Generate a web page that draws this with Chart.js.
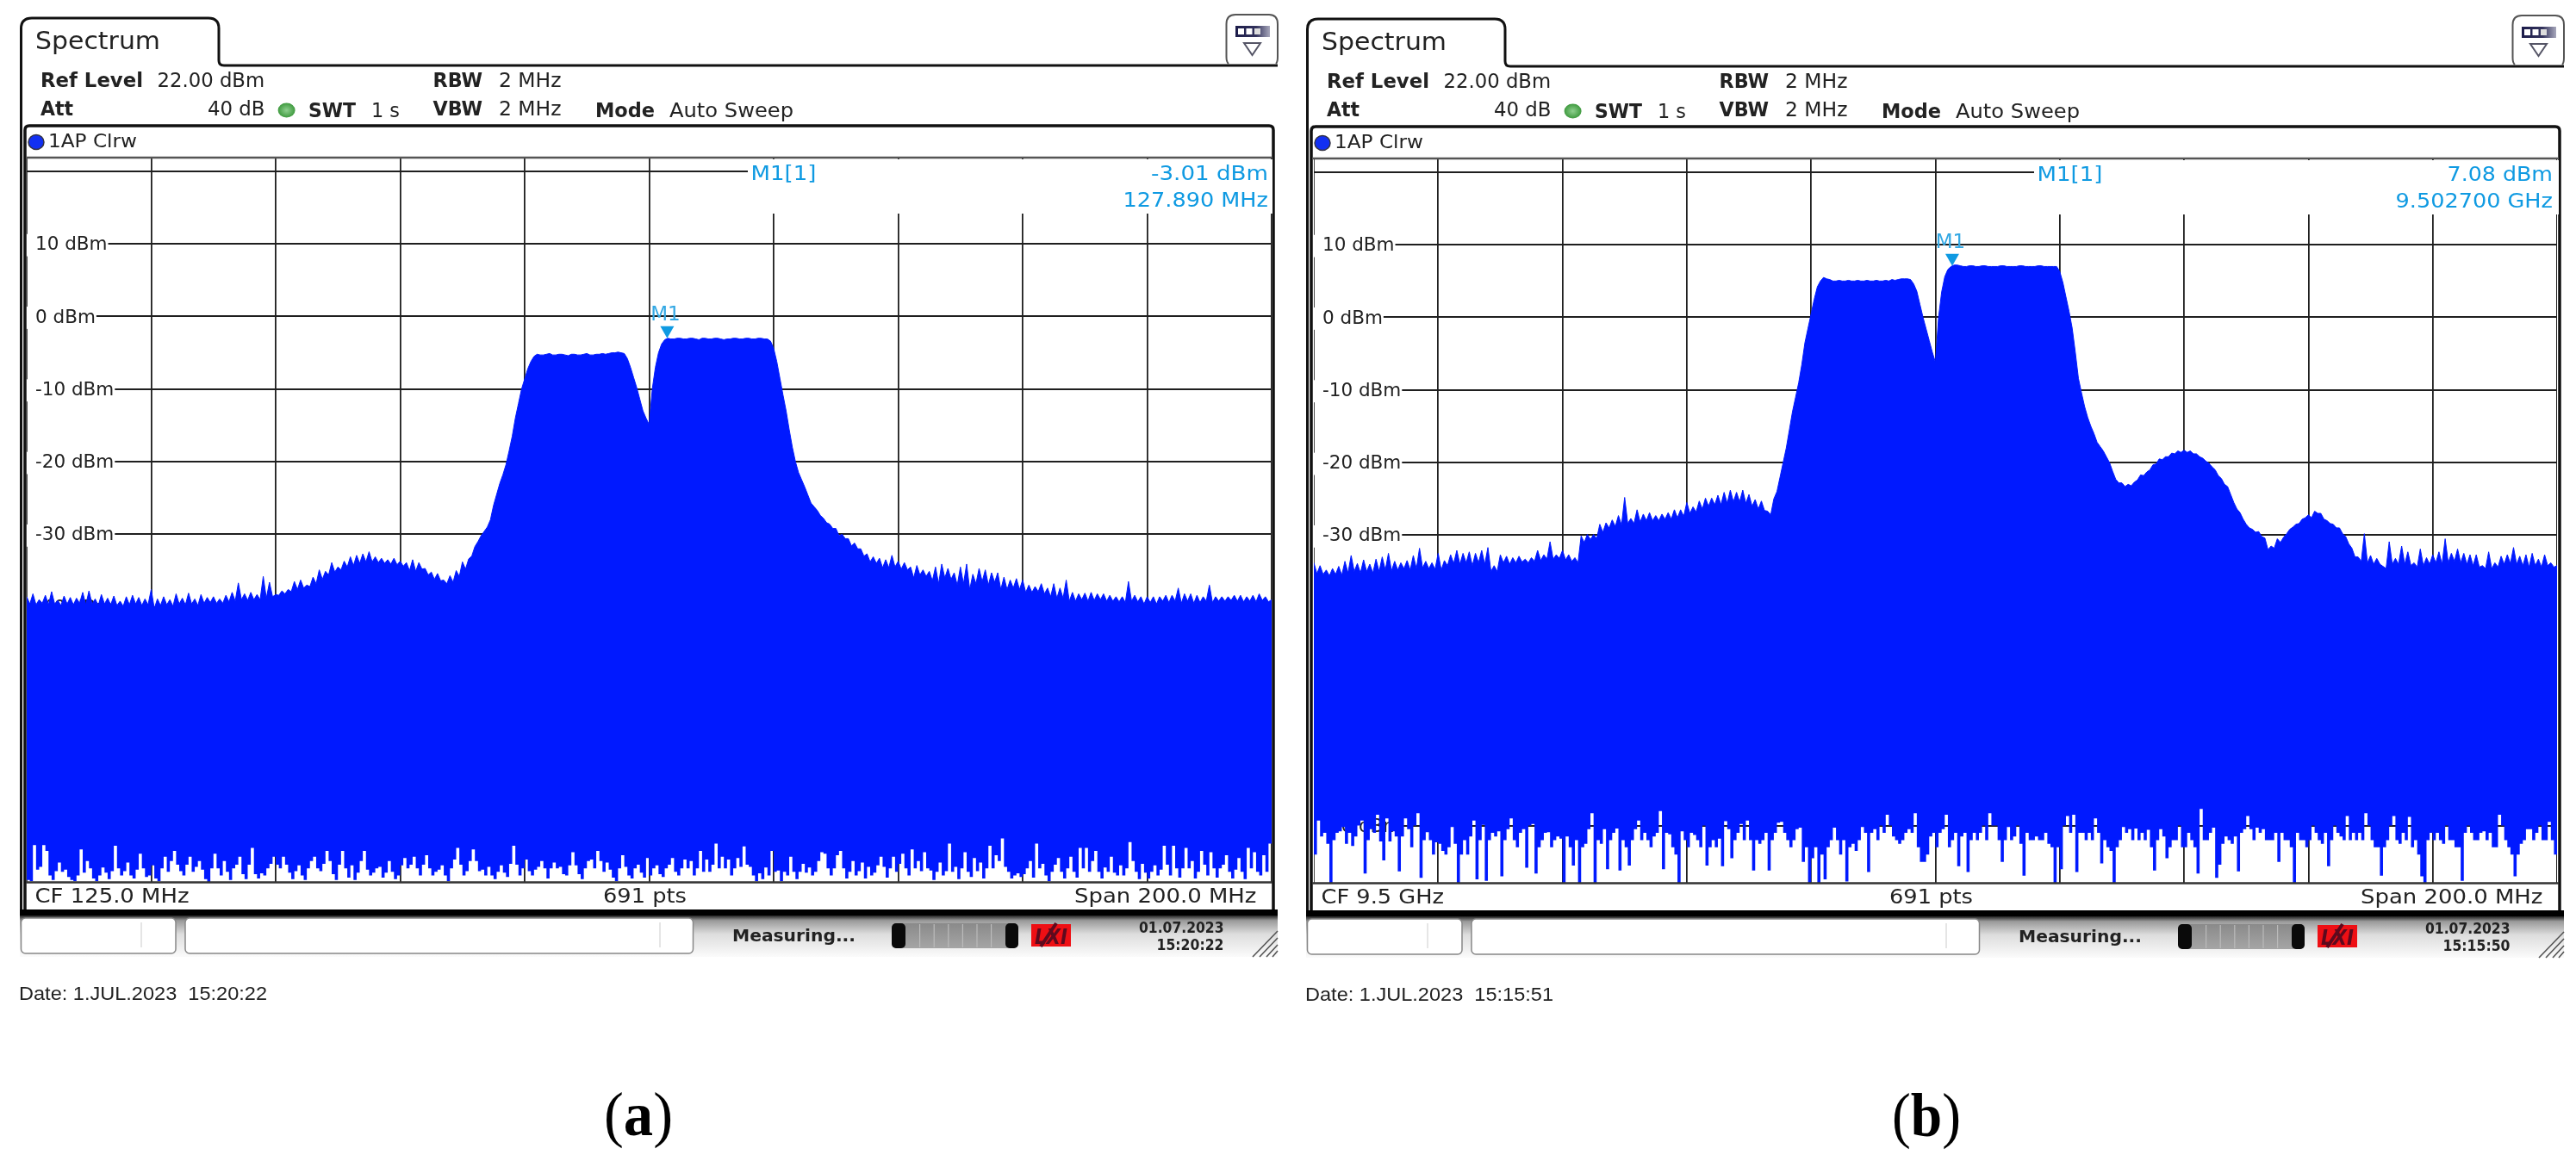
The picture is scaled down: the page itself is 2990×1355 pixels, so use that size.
<!DOCTYPE html>
<html>
<head>
<meta charset="utf-8">
<title>Spectrum</title>
<script src="https://cdn.jsdelivr.net/npm/chart.js@4"></script>
<style>
  html, body { margin: 0; padding: 0; background: #fff; width: 2990px; height: 1355px; overflow: hidden; }
  canvas { position: absolute; }
  #chrome { position: absolute; left: 0; top: 0; pointer-events: none; }
</style>
</head>
<body>
<canvas id="chartA" style="left:31px;top:182px"></canvas>
<canvas id="chartB" style="left:1525px;top:183px"></canvas>
<svg id="chrome" width="2990" height="1355" xmlns="http://www.w3.org/2000/svg"></svg>
<script>
// ---------- data (dBm), one value per 0.5 MHz ----------

// y axis grid levels
const levelTicks = [20, 10, 0, -10, -20, -30, -40, -50, -60, -70];

// panel (a): 25 .. 225 MHz
const spanA = [25, 225];
const markerA = [127.89, -3.01];
const topA = [
  -38.6,-39.6,-38.2,-39.7,-39,-39.5,-38.4,-39.7,-37.9,-39.6,-39.1,-39.8,-38.5,-39.6,-38.7,-39.7,-38.8,-39.5,-38,-39.7,-37.8,-39.6,-38.9,-39.8,-38.3,-39.6,-38.8,-39.7,-38.5,-39.8,-39.2,-39.9,-38.6,-39.7,-38.4,-39.6,-38.7,-39.8,-38.9,-39.7,
  -37.6,-40.2,-38.9,-39.8,-38.6,-39.7,-39,-39.9,-38.2,-39.6,-38.8,-39.7,-38.1,-39.6,-38.9,-39.8,-38.3,-39.5,-38.7,-39.4,-38.6,-39.5,-38.9,-39.5,-38.4,-39.3,-38,-39.2,-36.7,-39,-38.2,-39.1,-38,-39,-38.3,-39,-35.8,-38.8,-36.6,-38.6,
  -38.3,-38.4,-37.8,-38.2,-37.6,-37.9,-36.5,-37.6,-36.3,-37.4,-37,-37.2,-35.9,-36.8,-34.9,-36.2,-35.1,-35.6,-33.9,-35.2,-34.5,-34.9,-33.7,-34.5,-33.1,-34.3,-32.9,-34,-32.7,-33.8,-32.4,-33.8,-33.1,-33.9,-33.3,-34,-33.5,-34.1,-33.3,-34.2,
  -33.7,-34.4,-33.9,-35,-33.5,-35.1,-33.9,-34.8,-34.7,-35.6,-35.2,-36.2,-35.4,-36.4,-36.3,-36.8,-35.7,-36.6,-35,-35.8,-33.8,-34.8,-33.4,-33,-31.7,-31,-30.2,-29.6,-29,-28,-26,-24.5,-23,-21.8,-20.4,-18.5,-16.5,-14,-12,-10,
  -8.6,-7.2,-6.2,-5.5,-5.2,-5.3,-5.3,-5.2,-5.1,-5.3,-5.3,-5.2,-5.2,-5.3,-5.4,-5.2,-5.2,-5.3,-5.3,-5.2,-5.1,-5.3,-5.3,-5.2,-5.2,-5.1,-5.2,-5.1,-5,-5,-4.9,-5,-5.1,-5.8,-7,-8.4,-9.8,-11.4,-13,-14,
  -14.9,-10,-7,-5,-3.8,-3.2,-3,-3.1,-3.1,-3,-3,-3.1,-3.1,-3,-3,-3.1,-3.2,-3,-3,-3.1,-3.1,-3,-3,-3.1,-3.2,-3.1,-3.1,-3,-3,-3.1,-3.1,-3,-3,-3.1,-3.1,-3,-3,-3.1,-3.1,-3.4,
  -4.4,-6.2,-8.5,-10.8,-13,-15.6,-18,-20,-21.5,-22.5,-23.5,-24.6,-25.7,-26.2,-26.7,-27.4,-27.8,-28.4,-28.6,-29.2,-29.2,-30.2,-30,-30.6,-30.6,-31.6,-31.2,-32,-32,-33,-32.7,-33.8,-33.1,-34,-33.3,-34.6,-33.5,-34.6,-32.9,-34.5,
  -33.7,-34.8,-33.9,-34.9,-34.5,-36,-34.3,-35.6,-34.9,-35.8,-35.1,-36.4,-34.5,-36.8,-34.1,-36,-34.7,-36.2,-35.3,-37,-34.5,-36.8,-34.1,-37.6,-35.5,-36.8,-34.7,-36.5,-34.9,-37,-35.3,-36.6,-35.3,-37.6,-35.9,-37.6,-36.3,-37.4,-36.1,-37.6,
  -36.3,-38,-37,-38,-37.2,-37.9,-36.8,-38.2,-37.4,-38.6,-36.8,-38.8,-37.4,-38.8,-36.3,-39.2,-38,-39.2,-38.2,-39,-38.1,-39.2,-38,-39.1,-38.2,-39,-38.2,-39.2,-38.4,-39.2,-38.6,-39.3,-38.6,-39.4,-36.5,-39.2,-38.4,-39.3,-38.6,-39.6,
  -38.6,-39.4,-38.6,-39.6,-38.6,-39.2,-38.4,-39.4,-38.4,-39.2,-37.4,-39.5,-38.2,-39.2,-38.2,-39.5,-38.4,-39.4,-38.6,-39.2,-37,-39.4,-38.6,-39.2,-38.6,-39.2,-38.6,-39.1,-38.4,-39.2,-38.4,-39.3,-38.6,-39.2,-38.4,-39.3,-38.2,-39.1,-38.6,-39.3,-39
];
const lowA = [
  -77.6,-77.8,-72.8,-76.2,-75.8,-72.8,-73.6,-77,-77.6,-76.4,-75.2,-76.5,-76.2,-77.2,-77.6,-77.8,-77,-73.4,-76.6,-75,
  -76,-77.4,-77.8,-77,-75.9,-76.6,-77.5,-76.4,-72.9,-76,-77,-76.4,-75.2,-77,-77.4,-76.2,-74,-76,-77.2,-77,
  -75.6,-77.4,-77.8,-76,-74.4,-76.5,-75,-73.6,-75.5,-76.4,-77,-75.5,-74.4,-76.5,-75.8,-75,-76.2,-77.5,-78,-76,
  -74,-76,-77,-75,-76.5,-77.6,-76,-75.5,-74.4,-76.8,-77.5,-75.5,-73.2,-76.8,-77.4,-76.7,-77,-76,-75.4,-74.4,
  -75.5,-76,-74.4,-75.5,-76.6,-77.5,-76.4,-75.6,-77,-77.6,-76,-75,-74.4,-76,-76.4,-75.4,-73.6,-75,-76.8,-77.6,
  -75.5,-73.6,-76,-77.3,-75.6,-77.6,-76.6,-75,-73.6,-76.2,-77,-76.6,-76,-75.8,-77.3,-76.6,-75,-76.5,-77.5,-77,
  -75.6,-74.6,-76,-75.5,-74.4,-76,-77,-75.5,-74.2,-76,-77,-76.5,-76.2,-75.6,-77,-77.8,-76,-74.8,-73.2,-75.5,
  -77,-76.4,-75,-73.4,-75,-76.4,-76.2,-77,-75.8,-77,-77.5,-76.5,-75.6,-76.6,-77.2,-75.4,-72.9,-75.5,-77,-76,
  -74.8,-76.4,-77,-76.2,-75.8,-75,-76,-77.4,-76,-75.2,-76,-75.8,-76.8,-77,-75.6,-73.8,-75.6,-76.8,-77.5,-76,
  -75,-74.8,-76,-73.6,-75,-76.5,-75.2,-76.2,-77.3,-77.8,-76,-74.2,-75.8,-77,-77.4,-76,-75.5,-76.6,-77.3,-74.6,
  -77,-76,-75.6,-76.8,-77.2,-76,-75.5,-74.6,-76.5,-77,-76,-74.8,-76,-75,-77,-76,-73.6,-76.5,-74.8,-76.5,
  -75.5,-72.6,-76,-74.4,-76,-74.8,-77,-76,-74.6,-75.8,-73,-75.5,-75.8,-77,-77.8,-76.7,-77.5,-75.9,-77,-73.6,
  -76.5,-76.3,-77.8,-76.5,-77,-74.4,-76.5,-77.5,-76.5,-75.4,-76.6,-75.9,-77,-76.5,-75,-73.8,-74,-76,-77,-76,
  -74.2,-73.6,-76,-77.4,-76.5,-75,-77,-76.4,-75.2,-77.4,-75.8,-77,-76.6,-75.6,-74.4,-75.8,-77.3,-76,-74.4,-76.5,
  -75.4,-74,-76,-77,-73.4,-76,-75,-76.4,-73.8,-76,-76.3,-77.6,-76.5,-75.2,-77,-76.4,-72.6,-76.5,-75.8,-77.5,
  -76,-73.8,-76.5,-77.2,-74.6,-76.4,-75.2,-77.4,-76,-72.9,-76,-74.2,-75,-71.9,-75.8,-76.5,-77.4,-77,-76.7,-77.2,
  -76.8,-76,-75,-77.3,-72.6,-76,-75.4,-77,-77.8,-76.5,-75.5,-74.6,-76.5,-77.4,-76,-74.4,-76.5,-77.3,-73.2,-76,
  -73.2,-76.5,-75,-73.6,-76.5,-77.4,-75.9,-76.5,-74.4,-76.6,-77,-75.6,-77,-76,-72.4,-75,-76.5,-77.5,-75.4,-76.6,
  -77.4,-76.5,-75.6,-77,-76.2,-72.9,-75.5,-77,-72.9,-76,-77.3,-76,-73.2,-76,-75,-77.4,-76.5,-73.6,-75.5,-77,
  -73.8,-76,-77.3,-76,-75.5,-74.2,-76.5,-77.4,-76.2,-74.6,-76.5,-77.5,-73.2,-76,-73.8,-76.5,-77,-74.2,-76.5,-72.6,-76
];

// panel (b): 9.4 .. 9.6 GHz, in MHz
const spanB = [9400, 9600];
const markerB = [9502.7, 7.08];
const topB = [
  -33.8,-35.3,-34.2,-35.4,-34.8,-35.6,-34.6,-35.4,-34.3,-35.5,-33.6,-35.2,-32.8,-35,-33.9,-35.2,-33.4,-35,-34,-35.2,-33.3,-35,-33,-34.8,-32.5,-34.9,-33.6,-34.8,-33.8,-34.6,-33.5,-34.8,-32.8,-34.6,-31.8,-34.5,-33.6,-34.6,-33.8,-34.7,
  -32.5,-34.8,-33.5,-34.2,-32.7,-33.9,-32.1,-34,-32.5,-33.8,-32.3,-34.2,-32.5,-33.8,-32.1,-34,-31.7,-35,-34.2,-35,-32.7,-33.8,-32.9,-34,-33.1,-33.8,-32.9,-33.7,-33.3,-33.8,-33.1,-33.6,-32.1,-33.5,-32.7,-33.3,-30.9,-33.3,-32.7,-33.2,
  -32.1,-33.4,-32.7,-33.6,-33.1,-33.8,-30.1,-31,-29.9,-30.6,-29.9,-30.5,-28.5,-29.6,-28.3,-29,-27.9,-28.8,-27.3,-28.6,-24.8,-28.4,-27.7,-28.4,-26.5,-28.2,-27.1,-28,-26.9,-28,-27.3,-28,-27.1,-27.8,-26.9,-27.8,-26.5,-27.6,-26.5,-27.4,
  -25.5,-27,-26.1,-26.8,-25.3,-26.4,-24.9,-26,-24.9,-25.8,-24.5,-25.8,-24.1,-25.6,-23.8,-25.4,-24.1,-25.4,-23.8,-25.6,-24.4,-26,-25.1,-26.4,-25.3,-26.6,-26.7,-27.2,-25,-24,-22,-20,-18,-15.5,-13,-11,-9,-6.5,-3.5,-1.5,
  0.5,2.5,4.2,5,5.5,5.3,5.2,5,5,5.1,5,5,5.1,5,5,5.1,5,5,5.1,5,5,5.1,5,5,5.1,5,5.2,5.1,5.2,5.3,5.3,5.3,5.2,4.6,3.6,1.8,0,-1.6,-3.2,-4.8,
  -6.2,0,3.5,5.6,6.6,7,7.2,7.2,7.1,7,7,7.1,7.1,7,7,7.1,7.1,7,7,7,7,7.1,7.1,7,7,7,7,7.1,7.1,7,7,7,7,7.1,7.1,7,7,7,7,7,
  6.3,4.8,2.8,0.8,-1.5,-4.8,-8.4,-10.4,-12.3,-13.8,-15,-16,-17.2,-17.8,-18.4,-19.2,-20,-21.2,-22.3,-22.8,-22.8,-23.3,-23,-23.2,-22.7,-22.4,-21.7,-21.8,-21.3,-21,-20.3,-20.2,-19.5,-19.6,-19.2,-19.2,-18.7,-18.8,-18.4,-18.6,
  -18.3,-18.6,-18.4,-18.8,-18.8,-19.2,-19.4,-19.8,-20.1,-20.6,-21,-21.8,-22.2,-23,-23.3,-24.4,-25.5,-26.4,-26.9,-27.8,-28.5,-29,-29.2,-29.6,-29.5,-30.2,-30.4,-32,-31.5,-31.8,-30.5,-31,-30.3,-29.8,-29.2,-28.9,-28.5,-28.4,-27.8,-27.6,
  -27.2,-27.6,-26.7,-27,-27,-27.8,-28,-28.4,-28.5,-29,-29,-29.8,-30.2,-31.2,-31.8,-33,-33,-33.6,-29.8,-33.8,-32.8,-34,-33.2,-34,-34.3,-34.6,-30.9,-34,-33.2,-34,-31.5,-34,-32.3,-34.2,-33.8,-34.4,-31.9,-34.2,-33.1,-34,
  -32.7,-33.8,-32.3,-34,-30.5,-33.8,-32.5,-33.6,-31.9,-33.8,-32.5,-34,-32.7,-34.2,-32.7,-34.4,-34.2,-34.6,-32.3,-34.6,-33.8,-34.4,-32.9,-34,-32.7,-33.9,-31.7,-34,-32.9,-34.2,-32.7,-34.4,-32.5,-34.2,-33.3,-34.4,-32.7,-34.2,-33.8,-34.4,-34.2
];
const lowB = [
  -74,-69.3,-71.5,-71,-72.5,-77.9,-72,-71,-70.8,-70.2,-72.5,-71,-72.8,-71.5,-70,-69.3,-76.6,-72,-70.5,-71,-68.5,-72.2,-74.8,-69,-72.2,-70.8,-71.5,-76.3,-71.5,-69,-70.5,-73,-70,-68.3,-77.2,-72,-70.9,-72,-74,-72.3,
  -72.5,-73.5,-74,-73,-70.2,-72.5,-78,-74,-72,-74,-71.5,-69.3,-77.4,-72,-69.9,-77.6,-72,-71,-71.5,-70.8,-77,-72,-70.5,-69,-72,-73,-71,-70.5,-75.8,-70,-69.8,-76.6,-73,-72,-71,-70.9,-73,-72,-71.5,-71.8,
  -78,-71.5,-73,-75.5,-72,-78,-73,-72.5,-70.5,-68.3,-78,-72,-72.5,-70.5,-76,-72,-71,-70.4,-76.2,-72,-73,-75.5,-72,-70.5,-69.3,-72,-71,-72,-73,-71.5,-71,-68,-76,-71,-71.2,-73,-74,-78,-70.8,-72,
  -73,-71,-71.3,-72,-73,-70,-75.5,-73,-72,-73,-71.8,-75.6,-69.4,-70.5,-74.5,-72,-71,-69.8,-72,-69.3,-72,-76.2,-72,-72.5,-72,-71,-76.2,-72,-71,-69.6,-69.5,-71,-72,-73,-72,-70.5,-70.3,-75,-73,-77.9,
  -74.5,-73,-78,-74,-77.4,-73,-72,-70.3,-72,-74,-72,-77.7,-73,-72.5,-73.5,-72,-70.2,-71,-76.4,-71,-70.5,-72,-70,-71,-68.5,-70,-71.5,-72,-72.5,-72,-71,-70.5,-71,-68.3,-73,-75,-75,-74,-71.5,-71,
  -73,-71,-70.5,-68.5,-73,-72,-71,-75.6,-71.5,-71,-76.4,-72,-71,-72,-71,-70,-72,-68.3,-70,-70,-72,-75,-72,-70.2,-72,-71.5,-70,-72.5,-76.9,-71,-72,-72,-71.5,-72,-72,-71,-72.5,-73,-78,-73,
  -76,-70,-68.7,-71,-68.5,-76.4,-71,-71,-72,-71,-72,-69,-71,-75.2,-72,-73,-73.5,-78,-73,-72,-70.2,-71,-70.5,-72,-70.4,-72,-71,-72,-70.6,-73,-76.2,-72,-70.5,-71.5,-74.5,-73,-72,-72,-70,-73,
  -73,-71,-72,-73,-76.6,-67.7,-72,-72,-71,-70.3,-77.2,-75.4,-72.5,-71.5,-72,-72.5,-71.5,-76.3,-71,-70.5,-68.7,-70.5,-72,-70.3,-71,-70.5,-72,-72,-72,-71,-75,-71,-72,-72,-73,-78,-71,-72,-72,-73,
  -72,-70,-71,-72,-72.5,-71,-75.6,-72,-70,-71,-71.5,-72,-68.7,-72,-71,-72,-71,-72,-68.3,-70,-72,-73,-73,-76.9,-73,-72,-70,-68.7,-72,-72.5,-71,-72,-68.8,-73,-72,-74,-77,-78,-72,-71,
  -72,-71,-72,-72.5,-70,-72,-72,-73,-73,-77.6,-71,-70,-71,-72,-72,-71,-70.8,-72,-71,-73,-73,-68.5,-70,-72,-73,-74,-77,-74,-72.5,-72,-70.5,-70.5,-72,-71,-70,-72,-72,-69.5,-72,-74,-73
];

const TRACE = '#0019ff';
const CYAN = '#0f9ae2';
const INK = '#1f1f1f';

// ---------- chart ----------

// spread a sweep evenly over the span
function sweep(values, span) {
  const step = (span[1] - span[0]) / (values.length - 1);
  return values.map(function (v, i) { return { x: span[0] + i * step, y: v }; });
}

// M1 triangle and its label, placed through the chart's own scales
const markerPlugin = {
  id: 'marker',
  afterDatasetsDraw: function (chart, args, opts) {
    const px = chart.scales.x.getPixelForValue(opts.at[0]);
    const py = chart.scales.y.getPixelForValue(opts.at[1]);
    const ctx = chart.ctx;
    ctx.save();
    ctx.fillStyle = CYAN;
    ctx.beginPath();
    ctx.moveTo(px - 8, py - 14);
    ctx.lineTo(px + 8, py - 14);
    ctx.lineTo(px, py);
    ctx.closePath();
    ctx.fill();
    ctx.fillStyle = '#33a8e4';
    ctx.font = '23px "DejaVu Sans"';
    ctx.textAlign = 'center';
    ctx.fillText('M1', px - 2, py - 21);
    ctx.restore();
  },
};

// the plot fills its canvas: no room kept for the mirrored labels
function noRoom(scale) {
  scale.paddingTop = scale.paddingBottom = scale.paddingLeft = scale.paddingRight = 0;
  if (scale.isHorizontal()) { scale.height = 0; } else { scale.width = 0; }
}

function makeChart(id, width, span, top, low, marker) {
  const canvas = document.getElementById(id);
  canvas.width = width;
  canvas.height = 843;
  canvas.style.width = width + 'px';
  canvas.style.height = '843px';
  return new Chart(canvas.getContext('2d'), {
    type: 'line',
    data: {
      datasets: [
        { label: 'min', data: sweep(low, span), stepped: true, borderWidth: 0, pointRadius: 0, fill: false },
        { label: 'max', data: sweep(top, span), borderColor: TRACE, borderWidth: 1, pointRadius: 0, tension: 0,
          backgroundColor: TRACE, fill: { target: 0, above: TRACE, below: TRACE } },
      ],
    },
    options: {
      responsive: false,
      animation: false,
      devicePixelRatio: 1,
      layout: { padding: 0 },
      plugins: { legend: { display: false }, tooltip: { enabled: false }, marker: { at: marker } },
      scales: {
        x: {
          type: 'linear',
          min: span[0],
          max: span[1],
          afterFit: noRoom,
          border: { display: false },
          grid: { color: INK, lineWidth: 1.8, drawTicks: false },
          ticks: { display: false, stepSize: 20 },
        },
        y: {
          min: -78,
          max: 22,
          afterFit: noRoom,
          border: { display: false },
          grid: { color: INK, lineWidth: 2, drawTicks: false },
          afterBuildTicks: function (scale) {
            scale.ticks = [-78].concat(levelTicks.slice().reverse(), [22]).map(function (v) { return { value: v }; });
          },
          ticks: {
            mirror: true,
            padding: 10,
            labelOffset: 1.5,
            color: '#222',
            font: { family: '"DejaVu Sans"', size: 21.5 },
            showLabelBackdrop: function (ctx) { return ctx.tick.value <= 10 && ctx.tick.value > -78; },
            backdropColor: '#fff',
            backdropPadding: { left: 10, right: 1, top: 0, bottom: 0 },
            callback: function (v) { return (v <= 10 && v > -78) ? v + ' dBm' : ''; },
          },
        },
      },
    },
    plugins: [markerPlugin],
  });
}

makeChart('chartA', 1445, spanA, topA, lowA, markerA);
makeChart('chartB', 1443, spanB, topB, lowB, markerB);

// ---------- instrument frame and texts ----------

function t(x, y, str, w, size, extra) {
  return '<text x="' + x + '" y="' + y + '" font-size="' + size + '" textLength="' + w +
    '" lengthAdjust="spacingAndGlyphs" style="white-space:pre" ' + (extra || '') + '>' + str + '</text>';
}

function panel(dx, dy, info) {
  const B = 'font-weight="bold"';
  const s = [];
  s.push('<g transform="translate(' + dx + ',' + dy + ')" font-family="DejaVu Sans" fill="#222">');

  // tab and outer line
  s.push('<path d="M24.5,1060 V33 Q24.5,21 37,21 H242 Q254,21 254,33 V70 Q254,76 260,76 H1483" fill="none" stroke="#111" stroke-width="3"/>');
  // diagram frame
  s.push('<path d="M29,1058 V151 Q29,146 34,146 H1473 Q1478,146 1478,151 V1058" fill="none" stroke="#111" stroke-width="3.5"/>');
  s.push('<line x1="30" y1="183" x2="1477" y2="183" stroke="#555" stroke-width="2.5"/>');
  s.push('<line x1="30" y1="1024.5" x2="1477" y2="1024.5" stroke="#333" stroke-width="2.5"/>');
  s.push('<rect x="868" y="185" width="609" height="63" fill="#fff"/>');
  s.push('<rect x="23" y="1056" width="1460" height="7.5" fill="#000"/>');

  // status strip
  s.push('<rect x="23" y="1063" width="1460" height="48" fill="url(#strip)"/>');
  s.push('<rect x="24.5" y="1066" width="179.5" height="41" rx="5" fill="#fff" stroke="#888" stroke-width="1.5"/>');
  s.push('<rect x="215" y="1066" width="589.5" height="41" rx="5" fill="#fff" stroke="#888" stroke-width="1.5"/>');
  s.push('<line x1="164" y1="1071" x2="164" y2="1100" stroke="#ccc"/><line x1="766" y1="1071" x2="766" y2="1100" stroke="#ccc"/>');

  // progress bar
  s.push('<rect x="1035" y="1072" width="147" height="29" rx="6" fill="url(#bar)"/>');
  s.push('<rect x="1035" y="1072" width="16" height="29" rx="5" fill="#0a0a0a"/><rect x="1167" y="1072" width="15" height="29" rx="5" fill="#0a0a0a"/>');
  for (let i = 1; i < 7; i++) {
    s.push('<line x1="' + (1051 + i * 16.6) + '" y1="1073" x2="' + (1051 + i * 16.6) + '" y2="1100" stroke="#bbb" stroke-width="1.2"/>');
  }

  // LXI badge
  s.push('<rect x="1197" y="1073" width="46" height="26" fill="#ee0f14"/>');
  s.push(t(1201, 1096, 'LXI', 38, 25, B + ' font-style="italic" fill="#5d0a1e"'));
  s.push('<line x1="1208" y1="1099" x2="1226" y2="1072" stroke="#5d0a1e" stroke-width="4"/>');

  // corner hatch
  s.push('<path d="M1483,1081 L1454,1111 M1483,1089 L1462,1111 M1483,1097 L1470,1111 M1483,1104 L1477,1111" stroke="#555" stroke-width="1.6" fill="none"/>');

  // icon top right
  s.push('<path d="M1426,74 Q1423.5,72 1423.5,66 V28 Q1423.5,17 1434,17 H1473 Q1483,17 1483,28 V66 Q1483,72 1481,74" fill="#fff" stroke="#555" stroke-width="2"/>');
  s.push('<rect x="1434" y="30" width="40" height="13" fill="url(#icon)"/>');
  s.push('<rect x="1437" y="33" width="7" height="7" fill="#fff"/><rect x="1446.5" y="33" width="7" height="7" fill="#fff"/><rect x="1456" y="33" width="7" height="7" fill="#ddd"/>');
  s.push('<path d="M1444,50 H1463 L1453.5,64 Z" fill="#fff" stroke="#556" stroke-width="2"/>');

  // dots
  s.push('<ellipse cx="332.6" cy="128" rx="10" ry="8.5" fill="url(#led)"/>');
  s.push('<ellipse cx="42" cy="165" rx="9" ry="8.5" fill="#1230f2" stroke="#334" stroke-width="1.5"/>');

  // header
  s.push(t(41, 57, 'Spectrum', 145, 29));
  s.push(t(47, 100.7, 'Ref Level', 119, 22.5, B));
  s.push(t(182.6, 100.7, '22.00 dBm', 124.5, 22.5));
  s.push(t(502.5, 100.7, 'RBW', 57.5, 22.5, B));
  s.push(t(579, 100.7, '2 MHz', 72.5, 22.5));
  s.push(t(47, 134, 'Att', 38, 22.5, B));
  s.push(t(241, 134, '40 dB', 66.5, 22.5));
  s.push(t(358, 136, 'SWT', 55, 22.5, B));
  s.push(t(431, 136, '1 s', 33, 22.5));
  s.push(t(502.5, 134, 'VBW', 57.5, 22.5, B));
  s.push(t(579, 134, '2 MHz', 72.5, 22.5));
  s.push(t(691, 136, 'Mode', 69, 22.5, B));
  s.push(t(777, 136, 'Auto Sweep', 144, 22.5));
  s.push(t(56, 171, '1AP Clrw', 103, 21.5));

  // marker read-out
  s.push(t(871.4, 209, 'M1[1]', 76, 22.5, 'fill="' + CYAN + '"'));
  s.push(t(info.valueX, 209, info.value, info.valueW, 22.5, 'fill="' + CYAN + '"'));
  s.push(t(info.freqX, 240, info.freq, info.freqW, 22.5, 'fill="' + CYAN + '"'));

  // foot of diagram
  s.push(t(40.5, 1048, info.cf, info.cfW, 22.5));
  s.push(t(700, 1048, '691 pts', 97, 22.5));
  s.push(t(1247, 1048, 'Span 200.0 MHz', 211.5, 22.5));

  // status strip texts
  s.push(t(850, 1093, 'Measuring...', 143, 19.5, B));
  s.push(t(1322, 1083, '01.07.2023', 98.5, 17.5, B));
  s.push(t(1342.5, 1103, info.clock, 78, 17.5, B));

  // date under the screen
  s.push(t(22, 1161, info.date, 288, 22, 'font-family="Liberation Sans"'));

  // sub-figure letter
  s.push('<text x="' + info.capX + '" y="1318" font-family="Liberation Serif" font-size="72" fill="#000" textLength="80" lengthAdjust="spacingAndGlyphs">(<tspan font-weight="bold">' + info.cap + '</tspan>)</text>');

  s.push('</g>');
  return s.join('');
}

const defs = '<defs>' +
  '<linearGradient id="strip" x1="0" y1="0" x2="0" y2="1"><stop offset="0" stop-color="#222"/><stop offset="0.12" stop-color="#999"/><stop offset="0.45" stop-color="#ddd"/><stop offset="1" stop-color="#fbfbfb"/></linearGradient>' +
  '<linearGradient id="bar" x1="0" y1="0" x2="0" y2="1"><stop offset="0" stop-color="#8a8a8a"/><stop offset="1" stop-color="#a5a5a5"/></linearGradient>' +
  '<linearGradient id="icon" x1="0" y1="0" x2="1" y2="0"><stop offset="0" stop-color="#1c1c4a"/><stop offset="0.6" stop-color="#33335c"/><stop offset="1" stop-color="#a8a8bc"/></linearGradient>' +
  '<radialGradient id="led"><stop offset="0" stop-color="#8fd08f"/><stop offset="1" stop-color="#3f9a3f"/></radialGradient>' +
  '</defs>';

document.getElementById('chrome').innerHTML = defs +
  panel(0, 0, {
    value: '-3.01 dBm', valueX: 1336, valueW: 136,
    freq: '127.890 MHz', freqX: 1303.6, freqW: 168.4,
    cf: 'CF 125.0 MHz', cfW: 179,
    clock: '15:20:22',
    date: 'Date: 1.JUL.2023  15:20:22',
    cap: 'a', capX: 701,
  }) +
  panel(1493, 1, {
    value: '7.08 dBm', valueX: 1347.6, valueW: 122.4,
    freq: '9.502700 GHz', freqX: 1287.6, freqW: 182.4,
    cf: 'CF 9.5 GHz', cfW: 142.5,
    clock: '15:15:50',
    date: 'Date: 1.JUL.2023  15:15:51',
    cap: 'b', capX: 703,
  });
</script>
</body>
</html>
